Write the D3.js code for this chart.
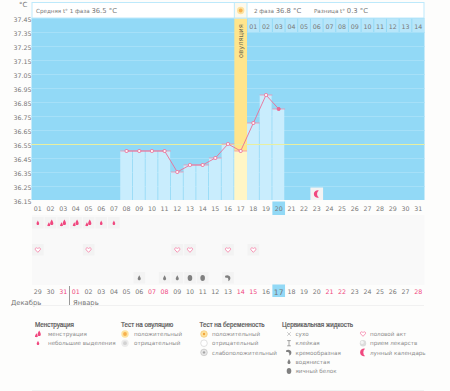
<!DOCTYPE html>
<html>
<head>
<meta charset="utf-8">
<script src="https://cdn.jsdelivr.net/npm/d3@7"></script>
<style>
html, body { margin: 0; padding: 0; background: #fdfdfc; }
svg { display: block; font-family: "DejaVu Sans", sans-serif; }
</style>
</head>
<body>
<div id="chart"></div>
<script>
/** DATA */
const cycleDays = d3.range(1, 32);
const chartDays = [8, 9, 10, 11, 12, 13, 14, 15, 16, 17, 18, 19, 20];
const temperatures = [36.5, 36.5, 36.5, 36.5, 36.35, 36.4, 36.4, 36.45, 36.55, 36.5, 36.7, 36.9, 36.8];
const tempTicks = [37.45, 37.35, 37.25, 37.15, 37.05, 36.95, 36.85, 36.75, 36.65, 36.55, 36.45, 36.35, 36.25, 36.15];
const nextCycleLabels = ["01", "02", "03", "04", "05", "06", "07", "08", "09", "10", "11", "12", "13", "14"];
const dateLabels = ["29", "30", "31", "01", "02", "03", "04", "05", "06", "07", "08", "09", "10", "11", "12", "13", "14", "15", "16", "17", "18", "19", "20", "21", "22", "23", "24", "25", "26", "27", "28"];
const redDates = ["31", "01", "07", "08", "14", "15", "21", "22", "28"];
const coverLine = 36.55;
const ovulationDay = 17;
const currentDay = 20;
const moonDay = 23;
const heavyDays = [2, 3, 4, 5];
const lightDays = [1, 6, 7];
const sexDays = [1, 5, 12, 13, 16, 18];
const waterDays = [9, 11, 12];
const eggDays = [13, 14];
const creamDays = [16];
const legendColumns = [
    { title: "Менструация", items: [["heavy", "менструация"], ["light", "небольшие выделения"]] },
    { title: "Тест на овуляцию", items: [["sun", "положительный"], ["sunGrey", "отрицательный"]] },
    { title: "Тест на беременность", items: [["testPos", "положительный"], ["testNeg", "отрицательный"], ["testWeak", "слабоположительный"]] },
    { title: "Цервикальная жидкость", items: [["dry", "сухо"], ["sticky", "клейкая"], ["cream", "кремообразная"], ["water", "водянистая"], ["egg", "яичный белок"]] },
    { title: "", items: [["heart", "половой акт"], ["pill", "прием лекарств"], ["moon", "лунный календарь"]] }
];

/** LAYOUT */
const width = 450, height = 391;
const pink = "#f0487f", grey = "#808080", textGrey = "#777";
const svg = d3.select("#chart").append("svg").attr("width", width).attr("height", height);

const x = d3.scaleBand().domain(cycleDays).range([31.5, 424.5]);
const y = d3.scaleLinear().domain([37.45, 36.15]).range([18, 200]);
const cx = d => x(d) + x.bandwidth() / 2;
const bw = x.bandwidth();
const dropPath = "M0,-3 C0.8,-1.4 1.6,-0.4 1.6,0.8 C1.6,1.8 0.9,2.4 0,2.4 C-0.9,2.4 -1.6,1.8 -1.6,0.8 C-1.6,-0.4 -0.8,-1.4 0,-3 Z";

// FUNCTION: DRAW ONE SMALL ICON AT (px, py)
const drawIcon = function(parent, type, px, py) {
    const g = parent.append("g").attr("transform", `translate(${px},${py})`);
    if (type === "heavy") {
        g.append("path").attr("fill", pink).attr("d", dropPath).attr("transform", "translate(1.2,-0.4)");
        g.append("path").attr("fill", pink).attr("d", dropPath).attr("transform", "translate(-1.6,1.4) scale(0.75)");
        g.append("rect").attr("fill", pink).attr("x", -3).attr("y", 1.8).attr("width", 2.4).attr("height", 1.2);
    } else if (type === "light") {
        g.append("path").attr("fill", pink).attr("d", dropPath).attr("transform", "scale(0.8)");
    } else if (type === "heart") {
        g.append("path").attr("fill", "#fff").attr("stroke", "#f57ba3").attr("stroke-width", 1).attr("transform", "scale(0.78)").attr("d", "M0,3 L-3,-0.2 C-4,-1.6 -3,-2.8 -1.6,-2.8 C-0.8,-2.8 -0.3,-2.4 0,-1.9 C0.3,-2.4 0.8,-2.8 1.6,-2.8 C3,-2.8 4,-1.6 3,-0.2 Z");
    } else if (type === "water") {
        g.append("path").attr("fill", grey).attr("d", dropPath).attr("transform", "scale(0.95)");
    } else if (type === "egg") {
        g.append("ellipse").attr("fill", grey).attr("rx", 2.3).attr("ry", 3);
    } else if (type === "cream") {
        g.append("path").attr("fill", grey).attr("d", "M-2.8,-2.2 C-1.2,-3.2 2.4,-2.8 2.4,0 C2.4,1.8 1.2,3 0.2,3.2 C0.6,1.8 0.4,0.4 -0.6,-0.2 C-1.4,-0.6 -2.6,0 -3,-0.8 Z");
    } else if (type === "sticky") {
        g.append("path").attr("fill", "none").attr("stroke", grey).attr("stroke-width", 0.7).attr("d", "M-1.8,-2.6 H1.8 M0,-2.6 V2.6 M-1.8,2.6 H1.8");
    } else if (type === "dry") {
        g.append("path").attr("fill", "none").attr("stroke", "#aaa").attr("stroke-width", 0.6).attr("d", "M-1.8,-1.8 L1.8,1.8 M1.8,-1.8 L-1.8,1.8");
    } else if (type === "moon") {
        g.append("path").attr("fill", pink).attr("d", "M2.1,-3.6 A3.8,3.8 0 1 0 2.1,3.6 A4.5,4.5 0 0 1 2.1,-3.6 Z");
    } else if (type === "pill") {
        g.append("circle").attr("r", 3.2).attr("fill", "#dcdcdc");
        g.append("circle").attr("r", 1.6).attr("cx", -0.8).attr("cy", -0.8).attr("fill", "#f4f4f4");
    } else if (type === "sun" || type === "sunGrey") {
        const sun = type === "sun";
        g.append("circle").attr("r", 3.7).attr("fill", sun ? "#fde3a0" : "#ececec");
        g.append("circle").attr("r", 1.9).attr("fill", sun ? "#f7b04e" : "#d2d2d2");
    } else if (type === "testPos") {
        g.append("circle").attr("r", 3.3).attr("fill", "#fde3a0").attr("stroke", "#f3c877").attr("stroke-width", 0.7);
        g.append("circle").attr("r", 1.2).attr("fill", "#f2a33c");
    } else if (type === "testNeg") {
        g.append("circle").attr("r", 3.3).attr("fill", "#fff").attr("stroke", "#d4d4d4").attr("stroke-width", 0.7);
    } else if (type === "testWeak") {
        g.append("circle").attr("r", 3.3).attr("fill", "#e6e6e6").attr("stroke", "#c4c4c4").attr("stroke-width", 0.7);
        g.append("circle").attr("r", 1.2).attr("fill", "#a5a5a5");
    }
};

/** PLOT BACKGROUND */
svg.append("rect").attr("x", 32).attr("y", 215).attr("width", 392.5).attr("height", 70).attr("fill", "#f9f9f9");
svg.append("rect").attr("x", x.range()[0]).attr("y", y(37.45)).attr("width", 393).attr("height", y(36.15) - y(37.45)).attr("fill", "#92d9f6");

// horizontal grid
svg.append("g").selectAll("line").data(tempTicks.slice(1, -1)).join("line")
    .attr("x1", x.range()[0]).attr("x2", x.range()[1])
    .attr("y1", d => y(d) + 0.5).attr("y2", d => y(d) + 0.5)
    .attr("stroke", "#a6e0f8").attr("stroke-width", 1);

// temperature bars
svg.append("g").selectAll("rect").data(chartDays).join("rect")
    .attr("x", d => x(d)).attr("width", bw - 0.8)
    .attr("y", (d, i) => y(temperatures[i]))
    .attr("height", (d, i) => y(36.15) - y(temperatures[i]))
    .attr("fill", "#c9edfd");

// ovulation column
const ovuTemp = temperatures[chartDays.indexOf(ovulationDay)];
svg.append("rect").attr("x", x(ovulationDay)).attr("y", y(37.45)).attr("width", bw).attr("height", y(ovuTemp) - y(37.45)).attr("fill", "#ffe58c");
svg.append("rect").attr("x", x(ovulationDay)).attr("y", y(ovuTemp)).attr("width", bw).attr("height", y(36.15) - y(ovuTemp)).attr("fill", "#fff6c6");
svg.append("text").attr("transform", `translate(${cx(ovulationDay) + 2.5},58) rotate(-90)`)
    .attr("font-size", 6.8).attr("fill", "#6f6a4e").text("овуляция");

// header strip
svg.append("rect").attr("x", 32).attr("y", 2.5).attr("width", 392).attr("height", 15.5).attr("fill", "#fff").attr("stroke", "#bde9fb");
svg.append("rect").attr("x", x(ovulationDay)).attr("y", 2.5).attr("width", bw).attr("height", 15.5).attr("fill", "#fdf9ec").attr("stroke", "#bde9fb");
drawIcon(svg, "sun", cx(ovulationDay), 10.5);
const headerText = function(px, label, value) {
    const t = svg.append("text").attr("x", px).attr("y", 13).attr("font-size", 5.6).attr("fill", textGrey).text(label);
    t.append("tspan").attr("font-size", 6.8).text(value);
};
headerText(36, "Средняя t° 1 фаза ", "36.5 °C");
headerText(254, "2 фаза ", "36.8 °C");
headerText(314, "Разница t° ", "0.3 °C");

// top cells of the next cycle
const nextDays = cycleDays.slice(17);
svg.append("g").selectAll("rect").data(nextDays).join("rect")
    .attr("x", d => x(d) + 0.5).attr("y", 18.5).attr("width", bw - 1).attr("height", 13.5).attr("fill", "#b7e6fa");
svg.append("g").selectAll("text").data(nextDays).join("text")
    .attr("x", d => cx(d)).attr("y", 28.5).attr("text-anchor", "middle")
    .attr("font-size", 6.3).attr("fill", textGrey)
    .text((d, i) => nextCycleLabels[i]);

// cover line
svg.append("line").attr("x1", x.range()[0]).attr("x2", x.range()[1])
    .attr("y1", y(coverLine) + 0.5).attr("y2", y(coverLine) + 0.5)
    .attr("stroke", "#e9efa0").attr("stroke-width", 1.2);

// temperature line, caps and points
const line = d3.line().x((d, i) => cx(chartDays[i])).y(d => y(d));
svg.append("g").selectAll("line").data(chartDays).join("line")
    .attr("x1", d => x(d)).attr("x2", d => x(d) + bw)
    .attr("y1", (d, i) => y(temperatures[i])).attr("y2", (d, i) => y(temperatures[i]))
    .attr("stroke", "#ef8fae").attr("stroke-width", 0.8);
svg.append("path").attr("d", line(temperatures)).attr("fill", "none").attr("stroke", "#ea6f97").attr("stroke-width", 0.9);
svg.append("g").selectAll("rect").data(chartDays).join("rect")
    .attr("x", d => cx(d) - 1.4).attr("width", 2.8)
    .attr("y", (d, i) => y(temperatures[i]) - 1.4).attr("height", 2.8)
    .attr("rx", 0.7)
    .attr("fill", d => d === currentDay ? "#ea6f97" : "#fff")
    .attr("stroke", "#ea5f8c").attr("stroke-width", 0.8);

// moon
svg.append("rect").attr("x", x(moonDay)).attr("y", 187.5).attr("width", bw).attr("height", 12.5).attr("fill", "#f3f3f3");
drawIcon(svg, "moon", cx(moonDay), 194);

/** AXES */
// temperature labels
svg.append("text").attr("x", 19).attr("y", 7).attr("font-size", 7).attr("fill", textGrey).text("°C");
const yAxis = d3.axisLeft(y).tickValues(tempTicks).tickSize(0).tickPadding(0).tickFormat(d3.format(".2f"));
const yAxisG = svg.append("g").attr("transform", "translate(31.5,1.6)").call(yAxis);
yAxisG.select(".domain").remove();
yAxisG.selectAll("text").attr("font-family", "DejaVu Sans").attr("font-size", 6.3).attr("fill", textGrey);

// cycle day row
svg.append("rect").attr("x", x(currentDay)).attr("y", 201.5).attr("width", bw).attr("height", 13.5).attr("fill", "#92d9f6");
svg.append("g").selectAll("text").data(cycleDays).join("text")
    .attr("x", d => cx(d)).attr("y", 210.5).attr("text-anchor", "middle")
    .attr("font-size", 6.3).attr("fill", textGrey)
    .text(d => d3.format("02")(d));

// symptom rows
const iconRow = function(days, type, py) {
    days.forEach(d => {
        svg.append("rect").attr("x", x(d) + 0.5).attr("y", py - 6).attr("width", bw - 1).attr("height", 11.5).attr("fill", "#f3f3f3");
        drawIcon(svg, type, cx(d), py);
    });
};
iconRow(heavyDays, "heavy", 223);
iconRow(lightDays, "light", 223);
iconRow(sexDays, "heart", 250);
iconRow(waterDays, "water", 278);
iconRow(eggDays, "egg", 278);
iconRow(creamDays, "cream", 278);

// date row
svg.append("rect").attr("x", x(currentDay)).attr("y", 284.5).attr("width", bw).attr("height", 12.5).attr("fill", "#92d9f6");
svg.append("g").selectAll("text").data(cycleDays).join("text")
    .attr("x", d => cx(d)).attr("y", d => d === currentDay ? 294.5 : 294)
    .attr("text-anchor", "middle")
    .attr("font-size", d => d === currentDay ? 7.6 : 6.3)
    .attr("fill", (d, i) => redDates.includes(dateLabels[i]) ? pink : textGrey)
    .text((d, i) => dateLabels[i]);
svg.append("line").attr("x1", 69.5).attr("x2", 69.5).attr("y1", 286).attr("y2", 305).attr("stroke", "#999");
svg.append("text").attr("x", 11).attr("y", 304.5).attr("font-size", 6.8).attr("fill", textGrey).text("Декабрь");
svg.append("text").attr("x", 73).attr("y", 304.5).attr("font-size", 6.8).attr("fill", textGrey).text("Январь");
svg.append("line").attr("x1", 32).attr("x2", 424).attr("y1", 305.5).attr("y2", 305.5).attr("stroke", "#f1f1f1");
svg.append("line").attr("x1", 32).attr("x2", 424).attr("y1", 390.5).attr("y2", 390.5).attr("stroke", "#f1f1f1");

/** LEGEND */
const legendX = [35, 121, 199.5, 282, 358];
const legendIconX = [38, 125, 204, 289, 363];
const legendTextX = [48, 134, 212, 295.5, 370];
const legendRowY = [334, 343.2, 352.4, 361.8, 371];
legendColumns.forEach((col, c) => {
    svg.append("text").attr("x", legendX[c]).attr("y", 326.5)
        .attr("font-family", "Liberation Sans").attr("font-size", 6.3)
        .attr("fill", "#555").attr("stroke", "#555").attr("stroke-width", 0.2).text(col.title);
    col.items.forEach((item, r) => {
        drawIcon(svg, item[0], legendIconX[c], legendRowY[r]);
        svg.append("text").attr("x", legendTextX[c]).attr("y", legendRowY[r] + 2.2)
            .attr("font-size", 5.6).attr("fill", "#8a8a8a").text(item[1]);
    });
});
</script>
</body>
</html>
